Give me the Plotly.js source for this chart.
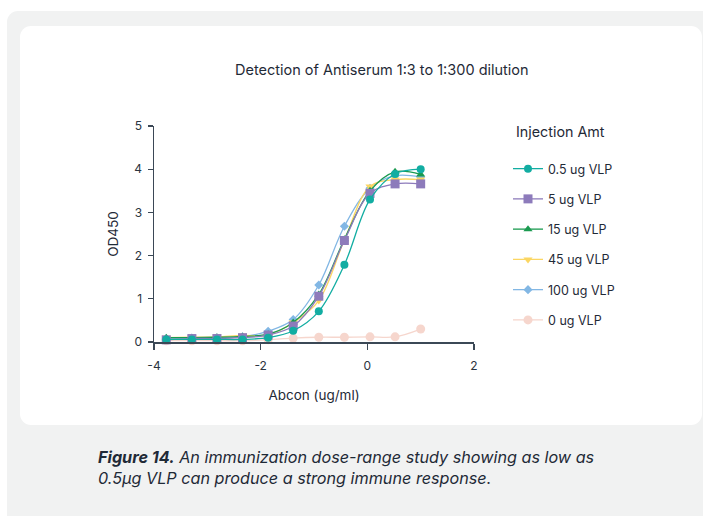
<!DOCTYPE html>
<html>
<head>
<meta charset="utf-8">
<script src="https://cdn.plot.ly/plotly-3.0.1.min.js"></script>
<style>
  html, body { margin:0; padding:0; background:#ffffff; width:703px; height:516px; overflow:hidden; }
  #panel { position:absolute; left:7px; top:11px; width:720px; height:530px; background:#f1f2f2; border-radius:11px; }
  #card { position:absolute; left:20px; top:26px; width:682px; height:399px; background:#ffffff; border-radius:11px; }
  #chart { position:absolute; left:0; top:0; width:703px; height:516px; }
</style>
</head>
<body>
<div id="panel"></div>
<div id="card"></div>
<div id="chart"></div>
<script>
// log10 concentration (ug/ml), 3-fold dilutions
const xLog = [-3.77, -3.29, -2.82, -2.34, -1.86, -1.39, -0.91, -0.43, 0.05, 0.52, 1.00];

const seriesNames = ["0.5 ug VLP", "5 ug VLP", "15 ug VLP", "45 ug VLP", "100 ug VLP", "0 ug VLP"];

const od_05ug  = [0.06, 0.06, 0.06, 0.06, 0.10, 0.26, 0.71, 1.79, 3.30, 3.89, 4.00];
const od_5ug   = [0.05, 0.08, 0.08, 0.10, 0.16, 0.37, 1.06, 2.35, 3.44, 3.66, 3.66];
const od_15ug  = [0.10, 0.10, 0.11, 0.13, 0.18, 0.45, 1.10, 2.38, 3.50, 3.94, 3.88];
const od_45ug  = [0.10, 0.11, 0.12, 0.15, 0.16, 0.45, 0.96, 2.36, 3.60, 3.76, 3.76];
const od_100ug = [0.08, 0.09, 0.10, 0.12, 0.25, 0.52, 1.32, 2.68, 3.56, 3.85, 3.82];
const od_0ug   = [0.03, 0.03, 0.03, 0.03, 0.05, 0.09, 0.11, 0.11, 0.12, 0.12, 0.30];

const seriesValues = [od_05ug, od_5ug, od_15ug, od_45ug, od_100ug, od_0ug];
const colors  = ["#12ada2", "#8d7bbb", "#1a9a50", "#fbd662", "#82b7e4", "#f6d6cd"];
const symbols = ["circle", "square", "triangle-up", "triangle-down", "diamond", "circle"];
const msizes  = [8, 9, 8, 8, 7, 9];

const traces = [];
// draw 0 ug first (bottom) and 0.5 ug last (top)
for (let i = seriesNames.length - 1; i >= 0; i--) {
  traces.push({
    type: "scatter",
    mode: "lines+markers",
    x: xLog,
    y: seriesValues[i],
    name: seriesNames[i],
    legendgroup: "g" + i,
    legendrank: i + 1,
    line: { color: colors[i], width: 1.3, shape: "spline", smoothing: 1.0 },
    marker: { color: colors[i], symbol: symbols[i], size: msizes[i], line: { width: 0 } },
    cliponaxis: false
  });
}

const axisColor = "#3b4856";
const textColor = "#1f2a37";
const L = 154, R = 474, T = 126, B = 342;
const W = R - L, H = B - T;
const px = v => (v - L) / W;
const py = v => (B - v) / H;

const layout = {
  width: 703, height: 516,
  margin: { l: L, r: 703 - R, t: T, b: 516 - B, pad: 0 },
  paper_bgcolor: "rgba(0,0,0,0)",
  plot_bgcolor: "rgba(0,0,0,0)",
  font: { family: "Inter, 'Noto Sans', sans-serif", color: textColor, size: 12 },
  showlegend: true,
  legend: {
    x: px(508), y: py(154), xanchor: "left", yanchor: "top",
    traceorder: "grouped",
    tracegroupgap: 11,
    font: { size: 12.5, color: textColor },
    bgcolor: "rgba(0,0,0,0)",
    itemwidth: 30
  },
  xaxis: {
    range: [-4, 2], tickvals: [-4, -2, 0, 2], ticktext: ["-4", "-2", "0", "2"],
    showgrid: false, zeroline: false, showline: true, linecolor: axisColor, linewidth: 1.5,
    ticks: "outside", ticklen: 6, tickwidth: 1.3, tickcolor: axisColor,
    ticklabelstandoff: 6,
    tickfont: { size: 12, color: "#2b3440" },
    title: { text: "Abcon (ug/ml)", font: { size: 13.5, color: textColor }, standoff: 18 }
  },
  yaxis: {
    range: [0, 5], tickvals: [0, 1, 2, 3, 4, 5],
    showgrid: false, zeroline: false, showline: true, linecolor: axisColor, linewidth: 1.5,
    ticks: "outside", ticklen: 5, tickwidth: 1.3, tickcolor: axisColor,
    ticklabelstandoff: 3,
    tickfont: { size: 12, color: "#2b3440" },
    title: { text: "OD450", font: { size: 13.5, color: textColor }, standoff: 12 }
  },
  annotations: [
    { text: "Detection of Antiserum 1:3 to 1:300 dilution", xref: "paper", yref: "paper",
      x: px(382), y: py(69), xanchor: "center", yanchor: "middle", showarrow: false,
      font: { size: 14.5, color: textColor } },
    { text: "Injection Amt", xref: "paper", yref: "paper",
      x: px(514), y: py(131), xanchor: "left", yanchor: "middle", showarrow: false,
      font: { size: 14.3, color: textColor } },
    { text: "<b><i>Figure 14.</i></b><i> An immunization dose-range study showing as low as</i><br><i>0.5µg VLP can produce a strong immune response.</i>",
      xref: "paper", yref: "paper", x: px(96), y: py(467), xanchor: "left", yanchor: "middle",
      align: "left", showarrow: false, font: { size: 16.2, color: textColor } }
  ]
};

Plotly.newPlot("chart", traces, layout, { displayModeBar: false, staticPlot: true });
</script>
</body>
</html>
